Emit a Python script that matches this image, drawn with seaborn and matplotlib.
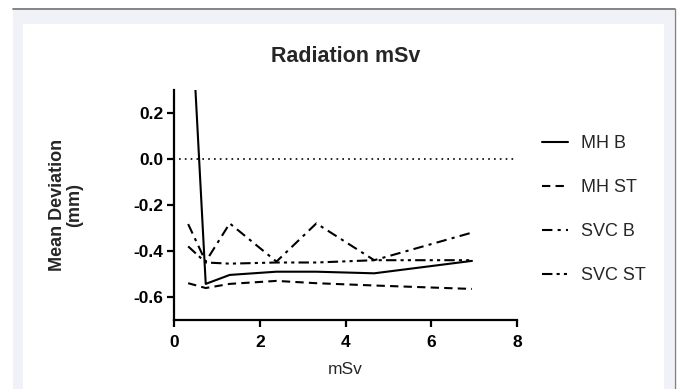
import matplotlib.pyplot as plt
import matplotlib.patches as mpatches
import seaborn as sns
import pandas as pd

sns.set_theme(style="ticks")
plt.rcParams["font.family"] = ["Liberation Sans", "DejaVu Sans"]

# dose values (mSv)
dose = [0.33, 0.74, 1.30, 2.39, 3.32, 4.67, 6.95]

# mean deviation (mm) per series
mh_b = [0.90, -0.543, -0.504, -0.49, -0.49, -0.497, -0.443]
mh_st = [-0.54, -0.561, -0.543, -0.53, -0.54, -0.55, -0.565]
svc_b = [-0.283, -0.446, -0.28, -0.446, -0.28, -0.44, -0.32]
svc_st = [-0.38, -0.45, -0.455, -0.45, -0.45, -0.44, -0.44]

series = {"MH B": mh_b, "MH ST": mh_st, "SVC B": svc_b, "SVC ST": svc_st}
styles = {
    "MH B": "-",
    "MH ST": (0, (4, 2.5)),
    "SVC B": (0, (5, 2.5, 1.5, 2.5)),
    "SVC ST": (0, (5, 2, 1.5, 2, 1.5, 2)),
}

fig = plt.figure(figsize=(6.77, 3.89), dpi=100)
fig.patch.set_facecolor("white")

# framed background like the source page
fig.patches.append(mpatches.Rectangle((13 / 677, 0), 661 / 677, 380 / 389,
                                      transform=fig.transFigure, facecolor="#f1f2f7",
                                      edgecolor="none", zorder=-3))
fig.patches.append(mpatches.Rectangle((23 / 677, 0), 641 / 677, 365 / 389,
                                      transform=fig.transFigure, facecolor="white",
                                      edgecolor="none", zorder=-2))
fig.lines.append(plt.Line2D([13 / 677, 675 / 677], [380 / 389, 380 / 389],
                            transform=fig.transFigure, color="#707070", lw=1.2))
fig.lines.append(plt.Line2D([674.5 / 677, 674.5 / 677], [0, 380 / 389],
                            transform=fig.transFigure, color="#808080", lw=1.0))

ax = fig.add_axes([174 / 677, 1 - 320 / 389, 343 / 677, 230 / 389])
ax.set_facecolor("none")

ax.axhline(0, xmin=0.015, xmax=1, color="black", lw=1.2, linestyle=(0, (1, 2.5)))

for name, vals in series.items():
    df = pd.DataFrame({"dose": dose, "dev": vals})
    sns.lineplot(data=df, x="dose", y="dev", ax=ax, color="black", lw=1.5,
                 linestyle=styles[name], label=name)

ax.set_xlim(0, 8)
ax.set_ylim(-0.7, 0.3)
ax.set_xticks([0, 2, 4, 6, 8])
ax.set_yticks([0.2, 0.0, -0.2, -0.4, -0.6])
ax.set_yticklabels(["0.2", "0.0", "-0.2", "-0.4", "-0.6"])
sns.despine(ax=ax)
for s in ["left", "bottom"]:
    ax.spines[s].set_linewidth(1.6)
    ax.spines[s].set_color("black")
ax.tick_params(axis="both", direction="out", length=5, width=1.6, colors="black",
               labelsize=12.5)
ax.tick_params(axis="y", pad=2.5)
ax.tick_params(axis="x", pad=5.5)
for lab in ax.get_xticklabels() + ax.get_yticklabels():
    lab.set_fontweight("bold")

ax.set_title("Radiation mSv", fontsize=15.5, fontweight="bold", pad=20)
ax.set_xlabel("mSv", fontsize=12.5, labelpad=9)
ax.set_ylabel("Mean Deviation\n(mm)", fontsize=13, fontweight="bold", linespacing=1.0)
ax.yaxis.set_label_coords(-0.265, 0.5)

leg = ax.legend(loc="upper left", bbox_to_anchor=(526 / 677, 1 - 119 / 389),
                bbox_transform=fig.transFigure, frameon=False, fontsize=13,
                handlelength=1.45, handletextpad=0.7, labelspacing=1.5)
for line in leg.get_lines():
    line.set_linewidth(1.5)

fig.savefig("out.png", dpi=100)
